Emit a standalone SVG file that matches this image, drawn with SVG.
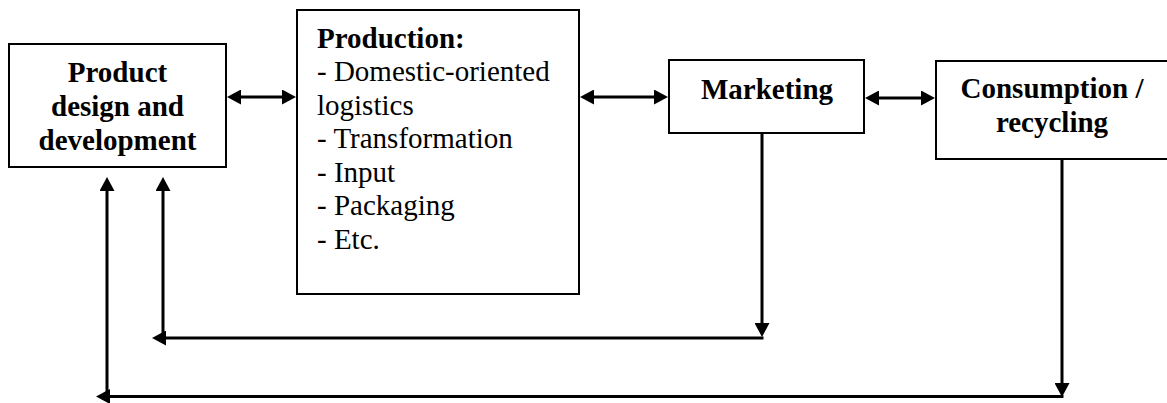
<svg xmlns="http://www.w3.org/2000/svg" width="1167" height="403" viewBox="0 0 1167 403">
<style>
.box{fill:#fff;stroke:#000;stroke-width:2}
.b{font-family:"Liberation Serif","Times New Roman","DejaVu Serif",serif;font-size:29px;font-weight:bold;fill:#000;text-anchor:middle}
.r{font-family:"Liberation Serif","Times New Roman","DejaVu Serif",serif;font-size:29px;font-weight:normal;font-style:normal;fill:#000}
.c{fill:none;stroke:#000;stroke-width:3}
</style>
<defs>
<marker id="ah" viewBox="0 0 14 15" refX="4" refY="7.5" markerWidth="14" markerHeight="15" markerUnits="userSpaceOnUse" orient="auto-start-reverse">
<path d="M0,0 L14,7.5 L0,15 z" fill="#000"/>
</marker>
</defs>
<rect width="1167" height="403" fill="#fff"/>
<g id="node-design">
<rect class="box" x="9" y="44" width="217" height="123"/>
<text class="b" x="117.5" y="82">Product</text>
<text class="b" x="117.5" y="116">design and</text>
<text class="b" x="117.5" y="150">development</text>
</g>
<g id="node-production">
<rect class="box" x="297" y="10" width="282" height="284"/>
<text class="b" x="317" y="47.5" text-anchor="start" style="text-anchor:start">Production:</text>
<text class="r" x="317" y="81" font-family="Liberation Serif">- Domestic-oriented</text>
<text class="r" x="317" y="114.5" font-family="Liberation Serif">logistics</text>
<text class="r" x="317" y="148" font-family="Liberation Serif">- Transformation</text>
<text class="r" x="317" y="181.5" font-family="Liberation Serif">- Input</text>
<text class="r" x="317" y="215" font-family="Liberation Serif">- Packaging</text>
<text class="r" x="317" y="248.5" font-family="Liberation Serif">- Etc.</text>
</g>
<g id="node-marketing">
<rect class="box" x="669" y="60" width="195" height="73"/>
<text class="b" x="767" y="98.5">Marketing</text>
</g>
<g id="node-consumption">
<rect class="box" x="936" y="61" width="240" height="98"/>
<text class="b" x="1052" y="97.5">Consumption /</text>
<text class="b" x="1052" y="131.5">recycling</text>
</g>
<g id="connectors">
<path class="c" d="M237,97 H286" marker-start="url(#ah)" marker-end="url(#ah)"/>
<path class="c" d="M590,97 H658" marker-start="url(#ah)" marker-end="url(#ah)"/>
<path class="c" d="M875,98 H925" marker-start="url(#ah)" marker-end="url(#ah)"/>
<path class="c" d="M762,134 V327" marker-end="url(#ah)"/>
<path class="c" d="M763.5,338 H162" marker-end="url(#ah)"/>
<path class="c" d="M163,334 V187" marker-end="url(#ah)"/>
<path class="c" d="M1062,160 V387" marker-end="url(#ah)"/>
<path class="c" d="M1063.5,396.5 H106" marker-end="url(#ah)"/>
<path class="c" d="M107,392 V187" marker-end="url(#ah)"/>
</g>
</svg>
